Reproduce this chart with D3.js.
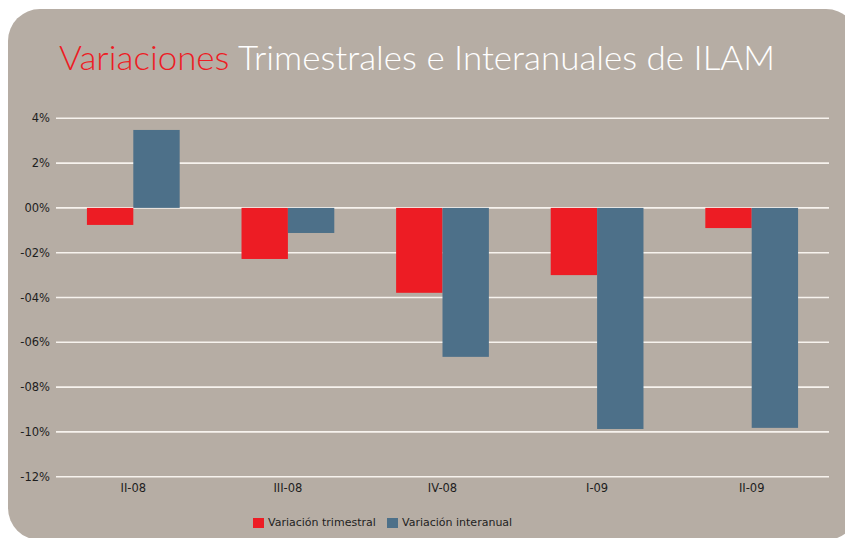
<!DOCTYPE html>
<html>
<head>
<meta charset="utf-8">
<script src="https://cdn.jsdelivr.net/npm/d3@7"></script>
<style>
  body { margin: 0; background: #fff; }
  svg { display: block; }
</style>
</head>
<body>
<div id="chart"></div>
<script>
var categories = ["II-08", "III-08", "IV-08", "I-09", "II-09"];
var series = ["Variación trimestral", "Variación interanual"];
var trimestral = [-0.76, -2.28, -3.79, -3.00, -0.90];
var interanual = [3.48, -1.12, -6.65, -9.87, -9.82];
var tickValues = [4, 2, 0, -2, -4, -6, -8, -10, -12];
var tickLabels = ["4%", "2%", "00%", "-02%", "-04%", "-06%", "-08%", "-10%", "-12%"];
var colors = ["#ed1c24", "#4d7089"];

(function drawBars(){
  var W = 845, H = 538;
  var left = 56, right = 829, top = 118.3, bottom = 476.7;

  var svg = d3.select("#chart")
    .append("svg")
      .attr("width", W)
      .attr("height", H);

  // panel
  svg.append("rect")
    .attr("x", 8).attr("y", 9)
    .attr("width", 850).attr("height", 531)
    .attr("rx", 32).attr("ry", 32)
    .attr("fill", "#b6ada4");

  // title
  var title = svg.append("text")
    .attr("x", 59).attr("y", 70)
    .attr("font-family", "Lato, 'Open Sans', sans-serif")
    .attr("font-weight", 300)
    .attr("font-size", "34px")
    .attr("textLength", 716)
    .attr("lengthAdjust", "spacingAndGlyphs");
  title.append("tspan").attr("fill", "#ed1c24").text("Variaciones");
  title.append("tspan").attr("fill", "#ffffff").text(" Trimestrales e Interanuales de ILAM");

  var x0 = d3.scaleBand().domain(categories).range([left, right]);
  var x1 = d3.scaleBand().domain(series)
    .range([x0.bandwidth() * 0.2, x0.bandwidth() * 0.8]);
  var y = d3.scaleLinear().domain([-12, 4]).range([bottom, top]);

  // grid lines
  svg.append("g")
    .selectAll("line")
    .data(tickValues)
    .enter().append("line")
      .attr("x1", left).attr("x2", right)
      .attr("y1", function(d){ return y(d); })
      .attr("y2", function(d){ return y(d); })
      .attr("stroke", "#f7f3ee")
      .attr("stroke-width", 1.6);

  // y axis labels
  var yAxis = d3.axisLeft(y)
    .tickValues(tickValues)
    .tickSize(0)
    .tickPadding(0)
    .tickFormat(function(d, i){ return tickLabels[i]; });

  var gy = svg.append("g")
    .attr("transform", "translate(50,0)")
    .call(yAxis);
  gy.select(".domain").remove();
  gy.selectAll("text")
    .attr("font-family", "'DejaVu Sans', sans-serif")
    .attr("font-size", "11.5px")
    .attr("fill", "#1e1e1e");

  // bars
  var rows = categories.map(function(c, i){
    return { cat: c, values: [trimestral[i], interanual[i]] };
  });

  var groups = svg.append("g").selectAll("g")
    .data(rows)
    .enter().append("g")
      .attr("transform", function(d){ return "translate(" + x0(d.cat) + ",0)"; });

  groups.selectAll("rect")
    .data(function(d){
      return d.values.map(function(v, j){ return { s: series[j], v: v, j: j }; });
    })
    .enter().append("rect")
      .attr("x", function(d){ return x1(d.s); })
      .attr("width", x1.bandwidth())
      .attr("y", function(d){ return y(Math.max(0, d.v)); })
      .attr("height", function(d){ return Math.abs(y(d.v) - y(0)); })
      .attr("fill", function(d){ return colors[d.j]; });

  // x axis labels
  var xAxis = d3.axisBottom(x0).tickSize(0).tickPadding(0);
  var gx = svg.append("g")
    .attr("transform", "translate(0,484)")
    .call(xAxis);
  gx.select(".domain").remove();
  gx.selectAll("text")
    .attr("font-family", "'DejaVu Sans', sans-serif")
    .attr("font-size", "11.5px")
    .attr("fill", "#1e1e1e");

  // legend
  var legendX = [253, 387];
  var legend = svg.append("g").selectAll("g")
    .data(series)
    .enter().append("g")
      .attr("transform", function(d, i){ return "translate(" + legendX[i] + ",517)"; });
  legend.append("rect")
    .attr("width", 11).attr("height", 10)
    .attr("y", 1)
    .attr("fill", function(d, i){ return colors[i]; });
  legend.append("text")
    .attr("x", 15).attr("y", 9)
    .attr("font-family", "'DejaVu Sans', sans-serif")
    .attr("font-size", "11px")
    .attr("fill", "#1e1e1e")
    .text(function(d){ return d; });
})();
</script>
</body>
</html>
